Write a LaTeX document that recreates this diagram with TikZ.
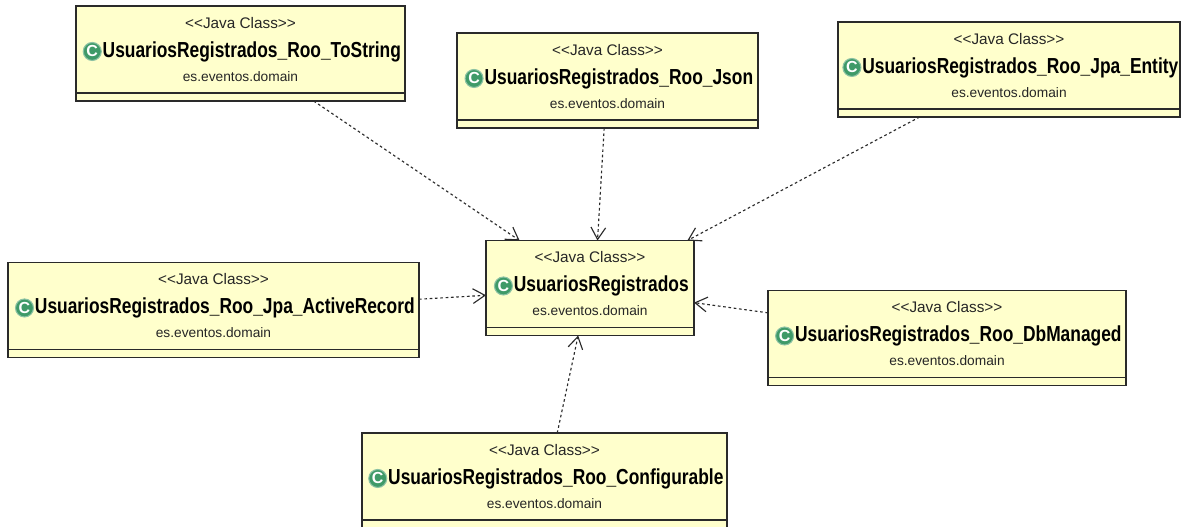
\documentclass[tikz,border=0pt]{standalone}
\usepackage{fontspec}
\usepackage{xcolor}
\usepackage{tikz}
\usetikzlibrary{arrows.meta, positioning}
\setmainfont{Liberation Sans}
\newfontfamily\namefont[FakeStretch=0.8]{Liberation Sans}
\definecolor{classfill}{HTML}{FFFFCC}
\definecolor{classline}{HTML}{2A2A2A}
\definecolor{icongreen}{HTML}{3F9A68}
\newcommand{\javaclass}{<{}<Java Class>{}>}

\tikzset{
    classbox/.style={draw=classline, fill=classfill, line width=.95pt, inner sep=0pt, outer sep=0pt, minimum height=71.25pt},
    stereotype/.style={inner sep=0pt, text height=8pt, text depth=1pt, font=\fontsize{11.5}{12}\selectfont, text=black!85},
    classname/.style={inner sep=0pt, text height=12pt, text depth=3pt, font=\namefont\bfseries\fontsize{16.3}{17}\selectfont},
    packagename/.style={inner sep=0pt, text height=8pt, text depth=1pt, font=\fontsize{10.3}{11}\selectfont, text=black!85},
    classicon/.style={circle, fill=icongreen, draw=icongreen!60, line width=.8pt, inner sep=0pt, minimum size=13.5pt, text=white, font=\bfseries\fontsize{12}{12}\selectfont},
    compartment/.style={classline, line width=.95pt},
    depends/.style={-{Straight Barb[length=9pt, width=11pt]}, line width=.85pt, dash pattern=on 2pt off 2pt, classline},
}

\begin{document}
\begin{tikzpicture}[x=.75pt, y=-.75pt]
        \useasboundingbox (0,0) rectangle (1184,526);
        \clip (0,0) rectangle (1184,526);

        \node[classbox, minimum width=156pt]    (main) at (590,288) {};
        \node[stereotype, below=8.5pt of main.north]    (mainS) {\javaclass};
        \node[classname, below=8.5pt of mainS, xshift=8.5pt] (mainN) {UsuariosRegistrados};
        \node[classicon, left=.5pt of mainN]            (mainI) {C};
        \node[packagename, below=6.5pt of mainN, xshift=-8.5pt] (mainP) {es.eventos.domain};
        \draw[compartment] ([yshift=6pt]main.south west) -- ([yshift=6pt]main.south east);

        \node[classbox, minimum width=246.75pt] (toString) at (240.5,53.5) {};
        \node[stereotype, below=8.5pt of toString.north] (toStringS) {\javaclass};
        \node[classname, below=8.5pt of toStringS, xshift=8.5pt] (toStringN) {UsuariosRegistrados\_Roo\_ToString};
        \node[classicon, left=.5pt of toStringN]        (toStringI) {C};
        \node[packagename, below=6.5pt of toStringN, xshift=-8.5pt] (toStringP) {es.eventos.domain};
        \draw[compartment] ([yshift=6pt]toString.south west) -- ([yshift=6pt]toString.south east);

        \node[classbox, minimum width=225.75pt] (json) at (607.5,80.5) {};
        \node[stereotype, below=8.5pt of json.north]    (jsonS) {\javaclass};
        \node[classname, below=8.5pt of jsonS, xshift=8.5pt] (jsonN) {UsuariosRegistrados\_Roo\_Json};
        \node[classicon, left=.5pt of jsonN]            (jsonI) {C};
        \node[packagename, below=6.5pt of jsonN, xshift=-8.5pt] (jsonP) {es.eventos.domain};
        \draw[compartment] ([yshift=6pt]json.south west) -- ([yshift=6pt]json.south east);

        \node[classbox, minimum width=256.5pt]  (entity) at (1009,69.5) {};
        \node[stereotype, below=8.5pt of entity.north]  (entityS) {\javaclass};
        \node[classname, below=8.5pt of entityS, xshift=8.5pt] (entityN) {UsuariosRegistrados\_Roo\_Jpa\_Entity};
        \node[classicon, left=.5pt of entityN]          (entityI) {C};
        \node[packagename, below=6.5pt of entityN, xshift=-8.5pt] (entityP) {es.eventos.domain};
        \draw[compartment] ([yshift=6pt]entity.south west) -- ([yshift=6pt]entity.south east);

        \node[classbox, minimum width=308.25pt] (active) at (213.5,310) {};
        \node[stereotype, below=8.5pt of active.north]  (activeS) {\javaclass};
        \node[classname, below=8.5pt of activeS, xshift=8.5pt] (activeN) {UsuariosRegistrados\_Roo\_Jpa\_ActiveRecord};
        \node[classicon, left=.5pt of activeN]          (activeI) {C};
        \node[packagename, below=6.5pt of activeN, xshift=-8.5pt] (activeP) {es.eventos.domain};
        \draw[compartment] ([yshift=6pt]active.south west) -- ([yshift=6pt]active.south east);

        \node[classbox, minimum width=268.5pt]  (dbManaged) at (947,338) {};
        \node[stereotype, below=8.5pt of dbManaged.north] (dbManagedS) {\javaclass};
        \node[classname, below=8.5pt of dbManagedS, xshift=8.5pt] (dbManagedN) {UsuariosRegistrados\_Roo\_DbManaged};
        \node[classicon, left=.5pt of dbManagedN]       (dbManagedI) {C};
        \node[packagename, below=6.5pt of dbManagedN, xshift=-8.5pt] (dbManagedP) {es.eventos.domain};
        \draw[compartment] ([yshift=6pt]dbManaged.south west) -- ([yshift=6pt]dbManaged.south east);

        \node[classbox, minimum width=273.75pt] (config) at (544.5,480.5) {};
        \node[stereotype, below=8.5pt of config.north]  (configS) {\javaclass};
        \node[classname, below=8.5pt of configS, xshift=8.5pt] (configN) {UsuariosRegistrados\_Roo\_Configurable};
        \node[classicon, left=.5pt of configN]          (configI) {C};
        \node[packagename, below=6.5pt of configN, xshift=-8.5pt] (configP) {es.eventos.domain};
        \draw[compartment] ([yshift=6pt]config.south west) -- ([yshift=6pt]config.south east);

        \draw[depends] (toString.-33.6) -- (main.146.9);
        \draw[depends] (json.-94.2)     -- (main.81.9);
        \draw[depends] (entity.208.4)   -- (main.26.8);
        \draw[depends] (active.3.2)     -- (main.184.4);
        \draw[depends] (dbManaged.172.4) -- (main.-8.7);
        \draw[depends] (config.75.3)    -- (main.-104.3);
\end{tikzpicture}
\end{document}
